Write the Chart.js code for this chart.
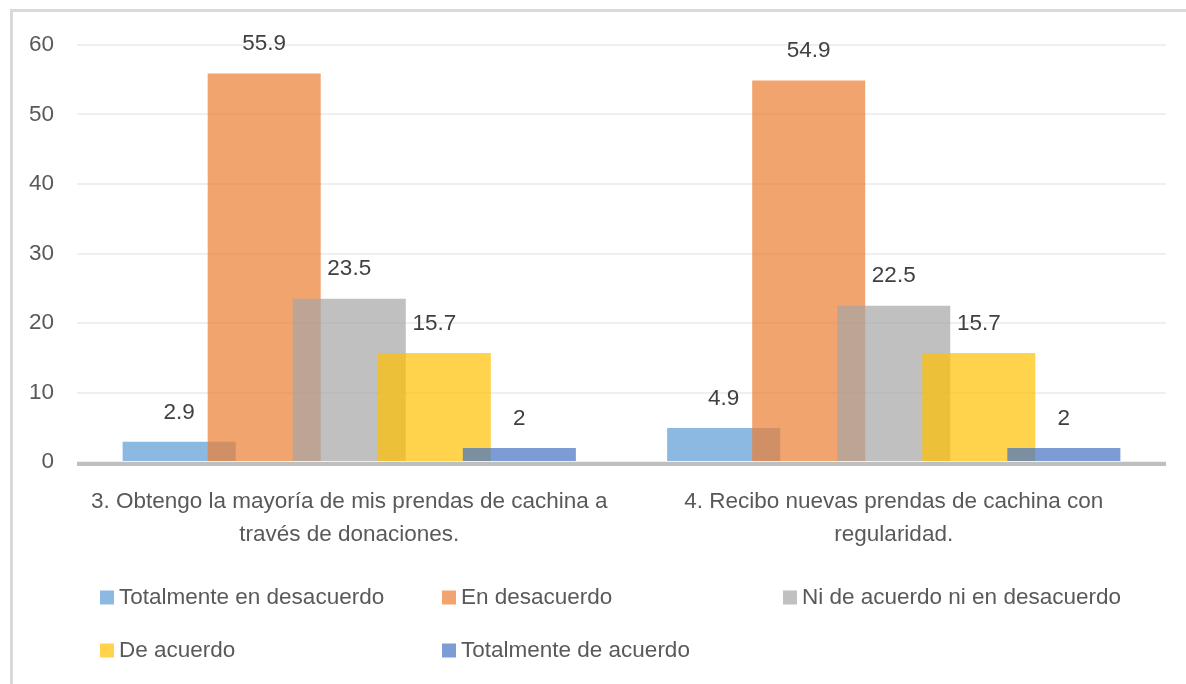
<!DOCTYPE html>
<html>
<head>
<meta charset="utf-8">
<script src="https://cdn.jsdelivr.net/npm/chart.js@4"></script>
<style>
  html, body { margin: 0; padding: 0; background: #ffffff; }
  #wrap { width: 1186px; height: 684px; position: relative; }
</style>
</head>
<body>
<div id="wrap"><canvas id="c" width="1186" height="684"></canvas></div>
<script>
// ---- data ----
const categories = [
  ["3. Obtengo la mayoría de mis prendas de cachina a", "través de donaciones."],
  ["4. Recibo nuevas prendas de cachina con", "regularidad."]
];
const seriesNames = [
  "Totalmente en desacuerdo",
  "En desacuerdo",
  "Ni de acuerdo ni en desacuerdo",
  "De acuerdo",
  "Totalmente de acuerdo"
];
const totalmenteEnDesacuerdo = [2.9, 4.9];
const enDesacuerdo = [55.9, 54.9];
const niDeAcuerdoNiEnDesacuerdo = [23.5, 22.5];
const deAcuerdo = [15.7, 15.7];
const totalmenteDeAcuerdo = [2, 2];
const yTickMin = 0, yTickMax = 60, yTickStep = 10;

// ---- styles ----
const seriesColors = [
  "rgba(91,155,213,0.7)",
  "rgba(237,125,49,0.7)",
  "rgba(165,165,165,0.7)",
  "rgba(255,192,0,0.7)",
  "rgba(68,114,196,0.7)"
];
const FONT = "'Liberation Sans', Arial, sans-serif";
const FS = 22.5;
const seriesValues = [totalmenteEnDesacuerdo, enDesacuerdo, niDeAcuerdoNiEnDesacuerdo, deAcuerdo, totalmenteDeAcuerdo];

const datasets = seriesNames.map((name, i) => ({
  label: name,
  data: seriesValues[i],
  backgroundColor: seriesColors[i],
  borderWidth: 0,
  categoryPercentage: 0.781,
  barPercentage: 1.329
}));

const framePlugin = {
  id: 'frame',
  beforeDraw(chart) {
    const ctx = chart.ctx;
    ctx.save();
    ctx.fillStyle = '#ffffff';
    ctx.fillRect(0, 0, chart.width, chart.height);
    ctx.fillStyle = '#d9d9d9';
    ctx.fillRect(10, 9, chart.width - 10, 3);
    ctx.fillRect(10, 9, 3, chart.height - 9);
    ctx.restore();
  }
};

const orderPlugin = {
  id: 'forwardOrder',
  beforeDatasetsDraw(chart) {
    const ctx = chart.ctx;
    const area = chart.chartArea;
    const y0 = chart.scales.y.getPixelForValue(0);
    ctx.save();
    ctx.fillStyle = '#bfbfbf';
    ctx.fillRect(area.left, y0, area.right - area.left, 4);
    ctx.restore();
    for (let i = 0; i < chart.data.datasets.length; i++) {
      const meta = chart.getDatasetMeta(i);
      if (!meta.hidden) meta.controller.draw();
    }
    return false;
  }
};

const labelPlugin = {
  id: 'labelsAndLegend',
  afterDraw(chart) {
    const ctx = chart.ctx;
    ctx.save();
    ctx.font = FS + 'px ' + FONT;
    ctx.textAlign = 'center';
    ctx.textBaseline = 'middle';
    ctx.fillStyle = '#404040';
    chart.data.datasets.forEach((ds, i) => {
      const meta = chart.getDatasetMeta(i);
      meta.data.forEach((bar, j) => {
        ctx.fillText(String(ds.data[j]), bar.x, bar.y - 29.5);
      });
    });
    // legend grid
    const colX = [100, 442, 783];
    const rowY = [598, 651];
    ctx.textAlign = 'left';
    chart.data.datasets.forEach((ds, i) => {
      const x = colX[i % 3];
      const y = rowY[Math.floor(i / 3)];
      ctx.fillStyle = ds.backgroundColor;
      ctx.fillRect(x, y - 7.5, 14, 14);
      ctx.fillStyle = '#595959';
      ctx.fillText(ds.label, x + 19, y);
    });
    ctx.restore();
  }
};

new Chart(document.getElementById('c'), {
  type: 'bar',
  data: { labels: categories, datasets: datasets },
  plugins: [framePlugin, orderPlugin, labelPlugin],
  options: {
    responsive: false,
    devicePixelRatio: 1,
    animation: false,
    events: [],
    layout: { padding: { top: 45, right: 20, bottom: 112, left: 0 } },
    plugins: { legend: { display: false }, tooltip: { enabled: false } },
    scales: {
      x: {
        grid: { display: false, drawTicks: false },
        border: { display: false },
        ticks: { color: '#595959', font: { family: FONT, size: FS, lineHeight: 1.47 }, padding: 23, maxRotation: 0, autoSkip: false },
        afterFit(scale) { scale.height = 110; }
      },
      y: {
        min: yTickMin, max: yTickMax,
        grid: { color: '#efefef', lineWidth: 2, drawTicks: false },
        border: { display: false },
        ticks: { stepSize: yTickStep, color: '#595959', font: { family: FONT, size: FS }, padding: 23 },
        afterFit(scale) { scale.width = 77; }
      }
    }
  }
});
</script>
</body>
</html>
